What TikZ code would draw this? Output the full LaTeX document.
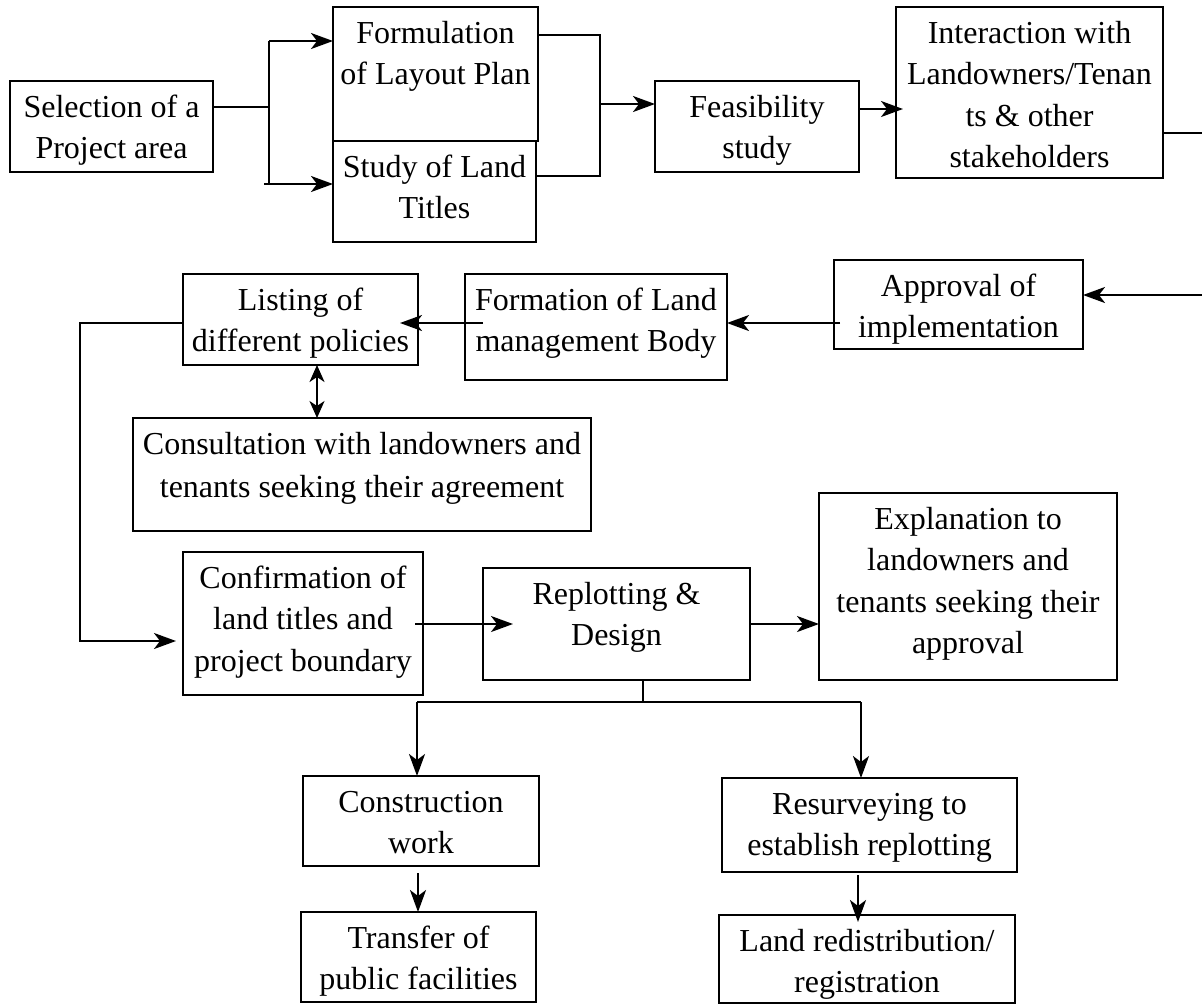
\documentclass[tikz,border=0pt]{standalone}
\usepackage{fontspec}
\setmainfont{Liberation Serif}
\usetikzlibrary{arrows.meta}
\tikzset{
  box/.style={draw, line width=2.8pt, inner sep=0pt, outer sep=0pt, anchor=north west,
    align=flush center, text height=36pt, font=\fontsize{32}{41.5}\selectfont},
  conn/.style={line width=2.2pt},
  arr/.style={line width=2.2pt, -{Stealth[length=22pt,width=16pt,inset=6pt]}},
  arrtwo/.style={line width=2.2pt, {Stealth[length=17pt,width=15pt,inset=5pt]}-{Stealth[length=17pt,width=15pt,inset=5pt]}}
}
\begin{document}
\begin{tikzpicture}[x=1pt,y=-1pt]
\useasboundingbox[fill=white] (0,0) rectangle (1202,1005);
% boxes
\node[box, text width=203pt, text depth=55pt]  (sel)   at (10,81)   {Selection of a\\Project area};
\node[box, text width=205pt, text depth=98pt]  (form)  at (333,7)   {Formulation\\of Layout Plan};
\node[box, text width=203pt, text depth=65pt]  (study) at (333,141) {Study of Land\\Titles};
\node[box, text width=204pt, text depth=55pt]  (feas)  at (655,81)  {Feasibility\\study};
\node[box, text width=267pt, text depth=135pt] (inter) at (896,7)   {Interaction with\\Landowners/Tenan\\ts \& other\\stakeholders};
\node[box, text width=249pt, text depth=53pt]  (appr)  at (834,260) {Approval of\\implementation};
\node[box, text width=262pt, text depth=70pt]  (lmb)   at (465,274) {Formation of Land\\management Body};
\node[box, text width=235pt, text depth=55pt]  (list)  at (183,274) {Listing of\\different policies};
\node[box, text width=458pt, text depth=77pt]  (cons)  at (133,418) {Consultation with landowners and\\[1.5pt]tenants seeking their agreement};
\node[box, text width=240pt, text depth=107pt] (conf)  at (183,552) {Confirmation of\\land titles and\\project boundary};
\node[box, text width=267pt, text depth=76pt]  (rep)   at (483,568) {Replotting \&\\Design};
\node[box, text width=298pt, text depth=151pt] (expl)  at (819,493) {Explanation to\\landowners and\\tenants seeking their\\approval};
\node[box, text width=236pt, text depth=54pt]  (cw)    at (303,776) {Construction\\work};
\node[box, text width=235pt, text depth=54pt]  (tr)    at (301,912) {Transfer of\\public facilities};
\node[box, text width=295pt, text depth=58pt]  (resv)  at (722,778) {Resurveying to\\establish replotting};
\node[box, text width=296pt, text depth=52pt]  (land)  at (719,915) {Land redistribution/\\registration};
% helper coordinates
\coordinate (jA) at (269,107);
\coordinate (jT) at (269,41);
\coordinate (jB) at (269,184);
\coordinate (kT) at (600,35);
\coordinate (kB) at (600,176);
\coordinate (kM) at (600,104);
\coordinate (fy) at (0,109);
\coordinate (rt1) at (1212,133);
\coordinate (rt2) at (1212,295);
\coordinate (ya) at (0,323);
\coordinate (lx) at (80,323);
\coordinate (lb) at (80,641);
\coordinate (dx) at (317,0);
\coordinate (yb) at (0,624);
\coordinate (stem) at (643,702);
\coordinate (tL) at (417,702);
\coordinate (tR) at (861,702);
\coordinate (cx) at (418,0);
\coordinate (rx) at (858,0);
% connectors, top row
\draw[conn] (jA -| sel.east) -- (jA);
\draw[conn] (jT) -- (jB);
\draw[arr] (jT) -- (jT -| form.west);
\draw[arr] ([xshift=-5pt]jB) -- (jB -| study.west);
\draw[conn] (kT -| form.east) -- (kT) -- (kB) -- (kB -| study.east);
\draw[arr] (kM) -- (kM -| feas.west);
\draw[arr] (fy -| feas.east) -- ([xshift=7pt]fy -| inter.west);
\draw[arr] (rt1 -| inter.east) -- (rt1) -- (rt2) -- (rt2 -| appr.east);
% middle
\draw[arr] ([xshift=6pt]ya -| appr.west) -- (ya -| lmb.east);
\draw[arr] ([xshift=18pt]ya -| lmb.west) -- ([xshift=-18pt]ya -| list.east);
\draw[arr] (ya -| list.west) -- (lx) -- (lb) -- ([xshift=-7pt]lb -| conf.west);
\draw[arrtwo] (dx |- list.south) -- (dx |- cons.north);
% lower
\draw[arr] ([xshift=-8pt]yb -| conf.east) -- ([xshift=30pt]yb -| rep.west);
\draw[arr] (yb -| rep.east) -- (yb -| expl.west);
\draw[conn] (stem |- rep.south) -- (stem);
\draw[conn] (tL) -- (tR);
\draw[arr] (tL) -- (tL |- cw.north);
\draw[arr] (tR) -- (tR |- resv.north);
\draw[arr] ([yshift=-7pt]cx |- cw.south) -- (cx |- tr.north);
\draw[arr] ([yshift=-3pt]rx |- resv.south) -- ([yshift=-7pt]rx |- land.north);
\end{tikzpicture}
\end{document}
